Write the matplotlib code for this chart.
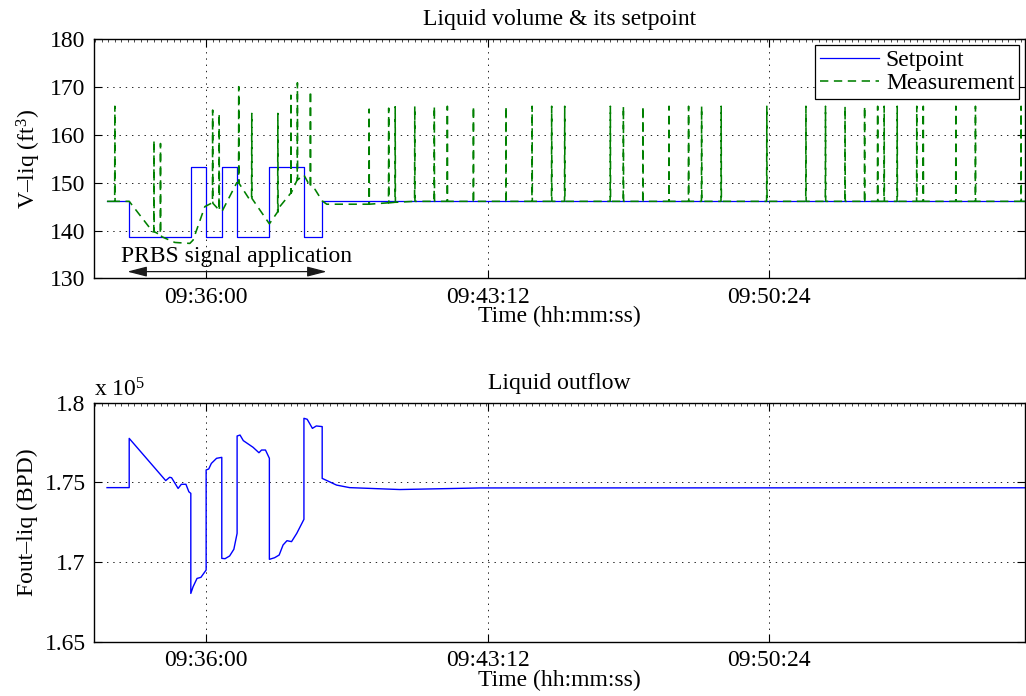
"""Liquid volume / setpoint and liquid outflow during a PRBS test (MATLAB-style two-panel figure)."""
import matplotlib
matplotlib.use("Agg")
import matplotlib.pyplot as plt
from matplotlib.ticker import FuncFormatter, MultipleLocator
import numpy as np

FS = 17
plt.rcParams["font.family"] = ["Liberation Serif", "DejaVu Serif"]
plt.rcParams["font.size"] = FS
plt.rcParams["mathtext.fontset"] = "custom"
plt.rcParams["mathtext.rm"] = "Liberation Serif"
plt.rcParams["mathtext.it"] = "Liberation Serif:italic"
plt.rcParams["lines.scale_dashes"] = False

T0 = 9 * 3600 + 36 * 60          # time axis in seconds relative to 09:36:00
XTICKS = [0, 432, 864]

# --- liquid volume setpoint (ft^3), step changes
sp_t = [-152, -118, -23, 0, 24, 48, 97, 150, 178, 1256]
sp_v = [146.1, 138.7, 153.3, 138.7, 153.3, 138.7, 153.3, 138.7, 146.1, 146.1]

# --- measured liquid volume, smooth part
meas_t = [-152, -118, -82, -68, -48, -25, -20, -2, 8, 21, 24, 47, 67, 97, 113, 130,
          150, 167, 178, 185, 205, 236, 282, 327, 1256]
meas_v = [146.1, 146.1, 139.75, 138.7, 137.5, 137.3, 138.0, 145.0, 145.7, 144.3, 143.9,
          150.0, 146.4, 141.4, 145.0, 147.8, 151.6, 148.6, 146.2, 145.5, 145.5, 145.5,
          145.8, 146.1, 146.1]

# --- single-sample glitches in the measurement: time, level before, peak
spike_t = [-140, -80, -70, 10, 20, 50, 70, 110, 130, 140, 160, 250, 280, 290, 320, 350,
           370, 410, 460, 500, 530, 550, 620, 640, 670, 710, 740, 760, 790, 860, 920,
           950, 980, 1010, 1030, 1040, 1060, 1090, 1100, 1150, 1180, 1250]
spike_base = [146.1, 139.75, 139.1, 145.7, 144.3, 149.9, 146.7, 143.9, 147.8, 150.6, 149.2,
              145.5, 145.8, 145.9] + [146.1] * 28
spike_peak = [166.0, 158.9, 158.2, 165.2, 164.5, 170.1, 164.5, 164.5, 168.3, 170.9, 169.2,
              165.4, 165.6, 165.9] + [166.0] * 28

# --- liquid outflow (BPD)
out_t = [-152, -118, -118, -62, -56, -53, -43, -38, -31, -26.5, -23.5, -23.5, -20, -14, -8,
         0, 0, 4, 8, 16, 24, 24, 29, 36, 42.5, 47.5, 47.5, 52, 57, 72, 81, 85, 91, 97, 97,
         105, 112, 118, 124, 131, 139, 150, 150, 155, 163, 169, 178, 178, 200, 220, 297,
         420, 1256]
out_v = [174670, 174670, 177760, 175110, 175320, 175290, 174620, 174880, 174880, 174410,
         174310, 168030, 168450, 168970, 169040, 169500, 175780, 175840, 176190, 176510,
         176570, 170230, 170210, 170380, 170800, 171800, 177910, 177970, 177620, 177200,
         176860, 177030, 177030, 176510, 170170, 170270, 170440, 171070, 171340, 171280,
         171800, 172680, 179020, 178960, 178390, 178540, 178500, 175250, 174830, 174670,
         174550, 174650, 174660]


def hms(x, pos=None):
    s = int(round(x + T0))
    return f"{s // 3600:02d}:{s % 3600 // 60:02d}:{s % 60:02d}"


def style(ax, title):
    ax.set_xlim(-172, 1256)
    ax.set_xticks(XTICKS)
    ax.xaxis.set_major_formatter(FuncFormatter(hms))
    ax.xaxis.set_minor_locator(MultipleLocator(10))
    ax.tick_params(which="major", direction="in", length=6, width=0.8, top=True, right=True, pad=6)
    ax.tick_params(which="minor", direction="in", length=2.5, width=0.5, top=True, bottom=False)
    ax.grid(True, which="major", color="k", lw=0.6, linestyle=(0, (1, 3.5)))
    for sp in ax.spines.values():
        sp.set_linewidth(1.0)
    ax.set_title(title, fontsize=FS, pad=10)
    ax.set_xlabel("Time (hh:mm:ss)", labelpad=-1)


fig = plt.figure(figsize=(10.26, 6.96), dpi=100)
ax1 = fig.add_axes([94 / 1026, 1 - 278.3 / 696, 931 / 1026, 239 / 696])
ax2 = fig.add_axes([94 / 1026, 1 - 641.7 / 696, 931 / 1026, 239 / 696])

# merge smooth measurement with the glitches (each glitch = base, peak, base)
st = np.asarray(spike_t, float)
mt = np.concatenate([meas_t, st - 0.3, st, st + 0.3])
mv = np.concatenate([meas_v, spike_base, spike_peak, spike_base])
order = np.argsort(mt, kind="stable")

ax1.plot(sp_t, sp_v, drawstyle="steps-post", color="b", lw=0.9, label="Setpoint")
ax1.plot(mt[order], mv[order], color=(0, 0.5, 0), lw=1.15, dashes=(6, 4), label="Measurement")
ax1.set_ylim(130, 180)
ax1.set_yticks(np.arange(130, 181, 10))
ax1.set_ylabel("V\u2013liq (ft$^{3}$)", labelpad=5)
style(ax1, "Liquid volume & its setpoint")
ax1.legend(loc="upper right", fancybox=False, edgecolor="k", framealpha=1,
           borderaxespad=0.25, handlelength=2.5, handletextpad=0.3,
           labelspacing=0.05, borderpad=0.2, fontsize=FS).get_frame().set_linewidth(0.9)

ax1.annotate("", xy=(-121, 131.4), xytext=(185, 131.4),
             arrowprops=dict(arrowstyle="<|-|>,head_length=0.7,head_width=0.18",
                             color="0.1", lw=0.9, shrinkA=0, shrinkB=0))
ax1.text(46, 133.4, "PRBS signal application", ha="center", va="baseline", fontsize=FS)

ax2.plot(out_t, np.asarray(out_v) / 1e5, color="b", lw=1.0)
ax2.set_ylim(1.65, 1.8)
ax2.set_yticks([1.65, 1.7, 1.75, 1.8])
ax2.yaxis.set_major_formatter(FuncFormatter(lambda v, p: f"{v:g}"))
ax2.set_ylabel("Fout\u2013liq (BPD)", labelpad=5)
style(ax2, "Liquid outflow")
ax2.text(0, 1.028, "x 10$^{5}$", transform=ax2.transAxes, ha="left", va="baseline", fontsize=FS)

fig.savefig("out.png", facecolor="white")
